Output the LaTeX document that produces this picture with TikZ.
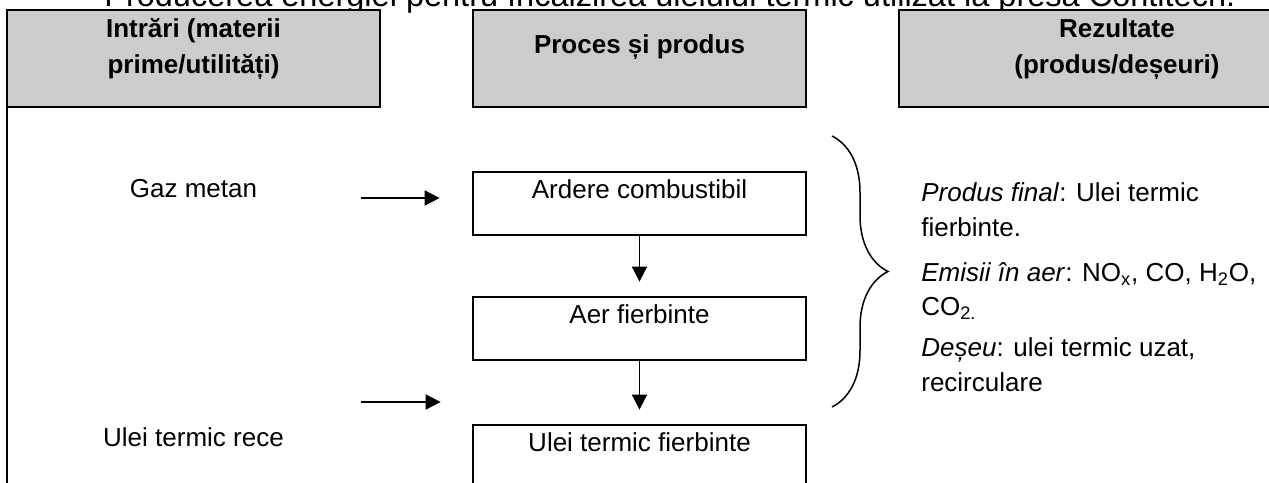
\documentclass[tikz,border=0pt]{standalone}
\usepackage{fontspec}
\setmainfont{Liberation Sans}
\usetikzlibrary{arrows.meta, decorations.pathreplacing}
\definecolor{headergray}{RGB}{204, 204, 204}
\newcommand{\txtsize}{\fontsize{14.8}{19.4}\selectfont}
\newcommand{\hdrsize}{\fontsize{14.8}{20.5}\selectfont}
\newcommand{\ttlsize}{\fontsize{18.5}{22}\selectfont}

\begin{document}
\begin{tikzpicture}[x=0.02cm, y=-0.02cm,
  hdrbox/.style={draw, line width=0.058cm, fill=headergray},
  hdrtext/.style={font=\hdrsize\bfseries, align=center, anchor=base, inner sep=0pt},
  procbox/.style={draw, line width=0.056cm, minimum width=6.66cm, text height=0.52cm, text depth=0.74cm, inner ysep=0pt, anchor=base, font=\txtsize},
  intext/.style={font=\txtsize, anchor=base, inner sep=0pt},
  restext/.style={font=\txtsize, align=left, anchor=base west, inner sep=0pt},
  flow/.style={-{Triangle[length=0.3cm, width=0.3cm]}, line width=0.036cm}]
  \useasboundingbox (0,0) rectangle (1269,483);
  \clip (0,0) rectangle (1269,483);

  % Title (cut at the top)
  \node[font=\ttlsize, anchor=base west, inner sep=0pt] (titlu) at (104,7) {Producerea energiei pentru încălzirea uleiului termic utilizat la presa Contitech.};

  % Header boxes
  \draw[hdrbox] (7,10) rectangle (380,107);
  \draw[hdrbox] (473,10) rectangle (806,107);
  \draw[hdrbox] (899,10) rectangle (1340,107);
  \draw[line width=0.058cm] (7,107) -- (7,500);

  % multi-line nodes sit on the baseline of their last line
  \node[hdrtext] (intrari) at (193.5,74) {Intrări (materii\\prime/utilități)};
  \node[hdrtext] (proces) at (639.5,54) {Proces și produs};
  \node[hdrtext] (rezultate) at (1117,74) {Rezultate\\(produs/deșeuri)};

  % Inputs
  \node[intext] (gaz) at (193.5,197) {Gaz metan};
  \node[intext] (rece) at (193.5,446) {Ulei termic rece};
  \coordinate (gazin) at (361,198);
  \coordinate (uleiin) at (361,402);

  % Process chain
  \node[procbox] (ardere) at (639.5,198) {Ardere combustibil};
  \node[procbox] (aer) at (639.5,323) {Aer fierbinte};
  \node[procbox] (fierb) at (639.5,451) {Ulei termic fierbinte};

  \draw[flow, shorten >=0.64cm] (gazin) -- (gazin -| ardere.west);
  \draw[flow, shorten >=0.62cm] (uleiin) -- (uleiin -| fierb.west);
  \draw[flow, shorten >=0.28cm] (ardere) -- (aer);
  \draw[flow, shorten >=0.28cm] (aer) -- (fierb);

  % Results
  \draw[line width=0.03cm, decorate, decoration={brace, amplitude=1.12cm}] (832,136) -- (832,407);
  \node[restext] (produs) at (921,236) {\textit{Produs final}: Ulei termic\\fierbinte.};
  \node[restext] (emisii) at (921,316) {\textit{Emisii în aer}: NO\textsubscript{x}, CO, H\textsubscript{2}O,\\CO\textsubscript{2.}};
  \node[restext] (deseu) at (921,391) {\textit{Deșeu}: ulei termic uzat,\\recirculare};
\end{tikzpicture}
\end{document}
